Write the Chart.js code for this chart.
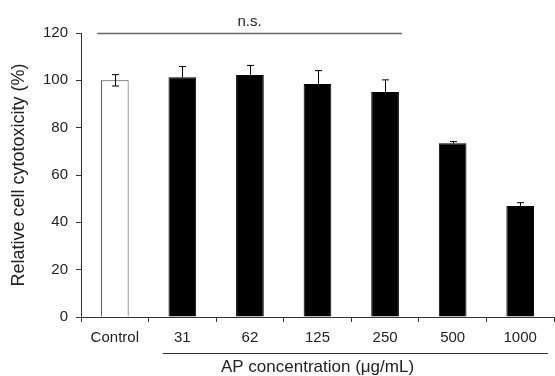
<!DOCTYPE html>
<html>
<head>
<meta charset="utf-8">
<script src="https://cdn.jsdelivr.net/npm/chart.js"></script>
<style>
  html, body { margin: 0; padding: 0; background: #fff; }
  #wrap { width: 555px; height: 376px; }
</style>
</head>
<body>
<div id="wrap"><canvas id="cytoChart" width="555" height="376"></canvas></div>
<script>
// concentrations (ug/mL) and measured cytotoxicity
const categories = ['Control', '31', '62', '125', '250', '500', '1000'];
const values = [100, 101.3, 102.3, 98.5, 95.1, 73.4, 46.9];
const errors = [2.4, 4.5, 4.0, 5.6, 5.1, 0.7, 1.4];
const yTicks = [0, 20, 40, 60, 80, 100, 120];
const nsLabel = 'n.s.';

const font = 'Liberation Sans, Arial, sans-serif';

// error bars: control gets both whiskers, treated groups only the upper one
const errorBars = {
    id: 'errorBars',
    afterDatasetsDraw(chart) {
        const ctx = chart.ctx;
        const y = chart.scales.y;
        const meta = chart.getDatasetMeta(0);
        ctx.save();
        ctx.strokeStyle = '#000';
        ctx.lineWidth = 1;
        meta.data.forEach(function(bar, i) {
            const x = Math.round(bar.x) + 0.5;
            const top = y.getPixelForValue(values[i] + errors[i]);
            const bottom = i === 0 ? y.getPixelForValue(values[i] - errors[i]) : bar.y;
            ctx.beginPath();
            ctx.moveTo(x, bottom);
            ctx.lineTo(x, top);
            ctx.moveTo(x - 3.5, top);
            ctx.lineTo(x + 3.5, top);
            if (i === 0) {
                ctx.moveTo(x - 3.5, bottom);
                ctx.lineTo(x + 3.5, bottom);
            }
            ctx.stroke();
        });
        ctx.restore();
    }
};

// n.s. bracket over control..250 and the line under the treated groups
const annotations = {
    id: 'annotations',
    afterDraw(chart) {
        const ctx = chart.ctx;
        const x = chart.scales.x;
        const y = chart.scales.y;
        const cw = x.getPixelForValue(1) - x.getPixelForValue(0);
        ctx.save();

        const nsY = Math.round(y.getPixelForValue(120)) + 0.5;
        const nsL = x.getPixelForValue(0) - 0.26 * cw;
        const nsR = x.getPixelForValue(4) + 0.25 * cw;
        ctx.strokeStyle = '#666';
        ctx.lineWidth = 1.5;
        ctx.beginPath();
        ctx.moveTo(nsL, nsY);
        ctx.lineTo(nsR, nsY);
        ctx.stroke();

        ctx.fillStyle = '#222';
        ctx.font = '15px ' + font;
        ctx.textAlign = 'center';
        ctx.textBaseline = 'middle';
        ctx.fillText(nsLabel, (nsL + nsR) / 2, nsY - 12);

        const ulY = Math.round(chart.chartArea.bottom + 36) + 0.5;
        ctx.strokeStyle = '#333';
        ctx.lineWidth = 1;
        ctx.beginPath();
        ctx.moveTo(x.getPixelForValue(1) - 0.29 * cw, ulY);
        ctx.lineTo(x.getPixelForValue(6) + 0.41 * cw, ulY);
        ctx.stroke();
        ctx.restore();
    }
};

new Chart(document.getElementById('cytoChart'), {
    type: 'bar',
    data: {
        labels: categories,
        datasets: [{
            data: values,
            backgroundColor: function(c) { return c.dataIndex === 0 ? '#fff' : '#000'; },
            borderColor: function(c) { return c.dataIndex === 0 ? '#444' : '#000'; },
            borderWidth: 1,
            categoryPercentage: 1,
            barPercentage: 0.41
        }]
    },
    options: {
        responsive: false,
        animation: false,
        layout: { padding: { top: 33, right: 1, left: 0, bottom: 0 } },
        plugins: {
            legend: { display: false },
            tooltip: { enabled: false }
        },
        scales: {
            x: {
                afterFit: function(s) { s.height = 59; },
                grid: {
                    offset: true,
                    drawOnChartArea: false,
                    tickLength: 5,
                    color: '#333'
                },
                border: { color: '#333', width: 1 },
                ticks: {
                    padding: 7,
                    color: '#222',
                    font: { family: font, size: 15 }
                },
                title: {
                    display: true,
                    text: 'AP concentration (μg/mL)',
                    color: '#222',
                    padding: { top: 0, bottom: -2 },
                    font: { family: font, size: 17 }
                }
            },
            y: {
                min: yTicks[0],
                max: yTicks[yTicks.length - 1],
                afterFit: function(s) { s.width = 81; },
                afterBuildTicks: function(s) {
                    s.ticks = yTicks.map(function(v) { return { value: v }; });
                },
                grid: {
                    drawOnChartArea: false,
                    tickLength: 5,
                    color: '#333'
                },
                border: { color: '#333', width: 1 },
                ticks: {
                    padding: 8,
                    color: '#222',
                    font: { family: font, size: 15 }
                },
                title: {
                    display: true,
                    text: 'Relative cell cytotoxicity (%)',
                    color: '#222',
                    padding: { top: 8, bottom: 0 },
                    font: { family: font, size: 18 }
                }
            }
        }
    },
    plugins: [errorBars, annotations]
});
</script>
</body>
</html>
